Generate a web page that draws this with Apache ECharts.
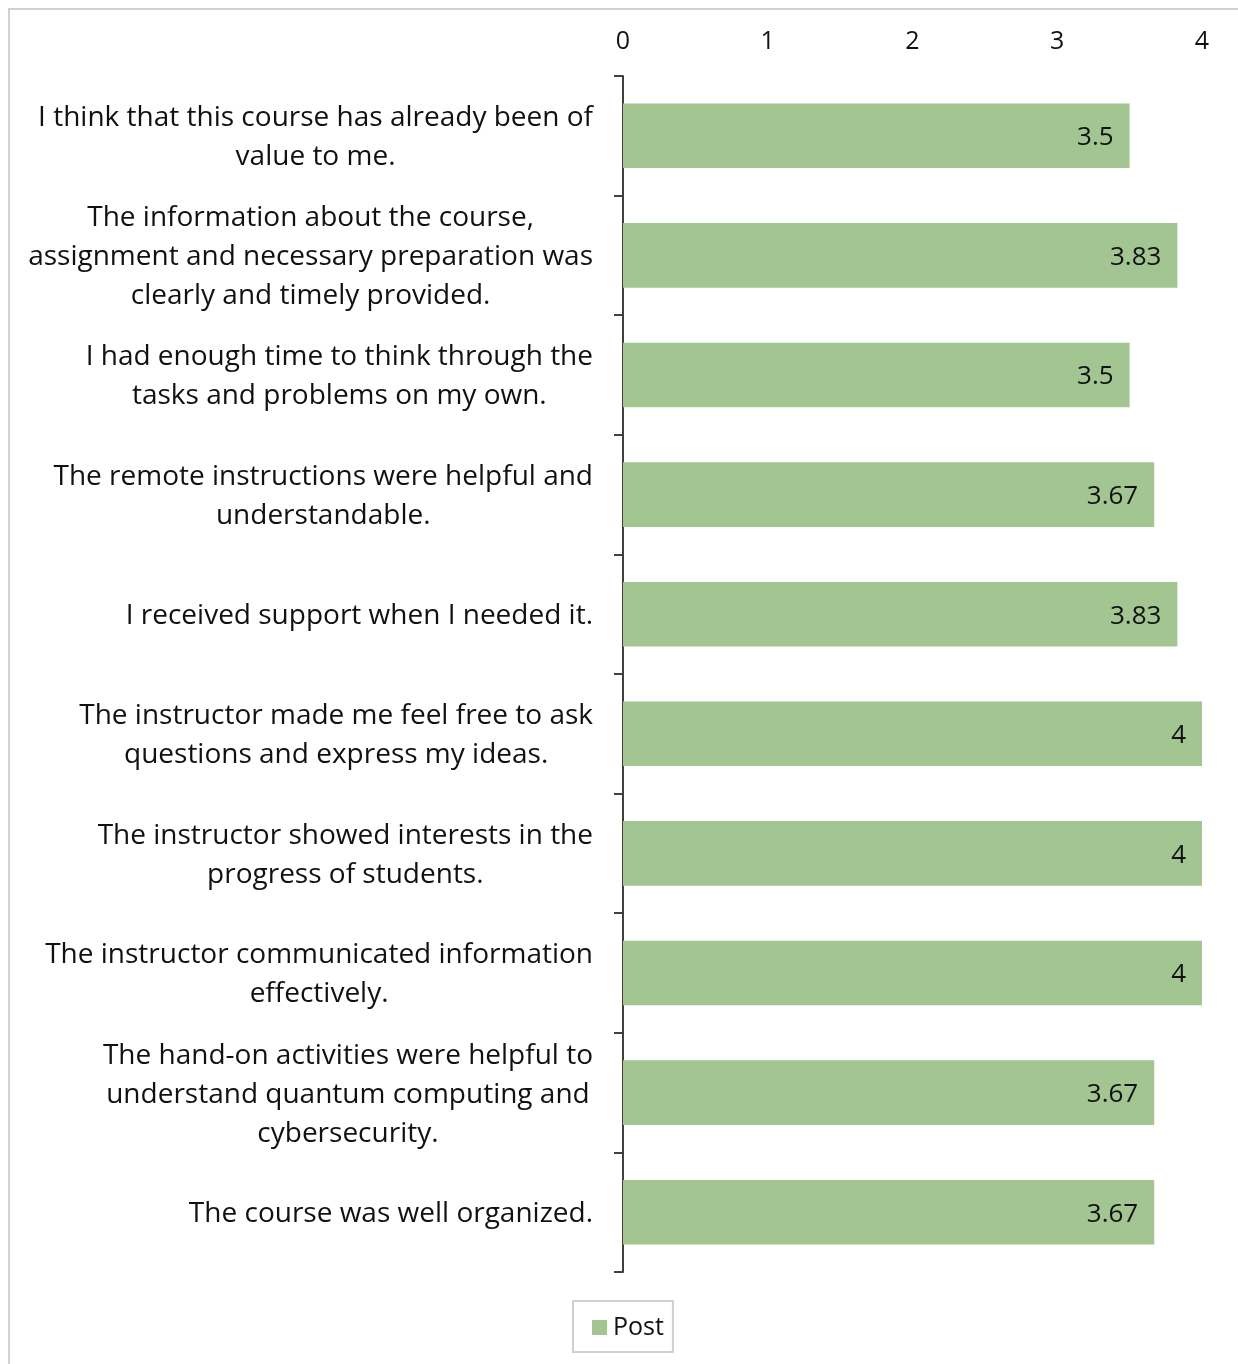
<!DOCTYPE html>
<html>
<head>
<meta charset="utf-8">
<script src="https://cdn.jsdelivr.net/npm/echarts@6/dist/echarts.min.js"></script>
<style>
  html, body { margin: 0; padding: 0; background: #fff; }
  #frame { position: absolute; left: 8px; top: 8px; width: 1400px; height: 1500px; border: 2px solid #d2d2d2; box-sizing: border-box; }
  #chart { position: absolute; left: 0; top: 0; width: 1238px; height: 1364px; }
</style>
</head>
<body>
<div id="frame"></div>
<div id="chart"></div>
<script>
const categories = [
  "I think that this course has already been of\nvalue to me.",
  "The information about the course,\nassignment and necessary preparation was\nclearly and timely provided.",
  "I had enough time to think through the\ntasks and problems on my own.",
  "The remote instructions were helpful and\nunderstandable.",
  "I received support when I needed it.",
  "The instructor made me feel free to ask\nquestions and express my ideas.",
  "The instructor showed interests in the\nprogress of students.",
  "The instructor communicated information\neffectively.",
  "The hand-on activities were helpful to\nunderstand quantum computing and\ncybersecurity.",
  "The course was well organized."
];
const postValues = [3.5, 3.83, 3.5, 3.67, 3.83, 4, 4, 4, 3.67, 3.67];
const seriesName = "Post";
const xTicks = [0, 1, 2, 3, 4];

const chart = echarts.init(document.getElementById('chart'), null, { renderer: 'canvas' });
const font = '"Open Sans", "Noto Sans", sans-serif';
chart.setOption({
  animation: false,
  textStyle: { fontFamily: font },
  grid: { left: 623, right: 36, top: 76, bottom: 92, containLabel: false },
  legend: {
    data: [seriesName],
    left: 573,
    top: 1301,
    icon: 'rect',
    itemWidth: 15,
    itemHeight: 15,
    itemGap: 8,
    padding: [14, 9, 12, 19],
    borderColor: '#cfcfcf',
    borderWidth: 2,
    borderRadius: 0,
    textStyle: { fontSize: 25, color: '#111', fontFamily: font, padding: [0, 0, 0, 1] }
  },
  xAxis: {
    type: 'value',
    position: 'top',
    min: xTicks[0],
    max: xTicks[xTicks.length - 1],
    interval: 1,
    axisLine: { show: false },
    axisTick: { show: false },
    splitLine: { show: false },
    axisLabel: { fontSize: 25, color: '#111', margin: 22, fontFamily: font }
  },
  yAxis: {
    type: 'category',
    inverse: true,
    data: categories,
    axisLine: { show: true, lineStyle: { color: '#404040', width: 2 } },
    axisTick: { show: true, length: 9, lineStyle: { color: '#404040', width: 2 } },
    axisLabel: {
      margin: 30,
      fontSize: 28,
      color: '#111',
      fontFamily: font,
      padding: [4, 0, 0, 0],
      formatter: function (v) {
        return v.split('\n').map(function (l) { return '{c|' + l + '}'; }).join('\n');
      },
      rich: {
        c: { align: 'center', fontSize: 28, lineHeight: 39, color: '#111', fontFamily: font }
      }
    }
  },
  series: [{
    name: seriesName,
    type: 'bar',
    data: postValues,
    barWidth: '54%',
    itemStyle: { color: '#a2c591' },
    label: {
      show: true,
      position: 'insideRight',
      distance: 16,
      offset: [0, 2],
      fontSize: 26,
      color: '#111',
      fontFamily: font
    }
  }]
});
</script>
</body>
</html>
